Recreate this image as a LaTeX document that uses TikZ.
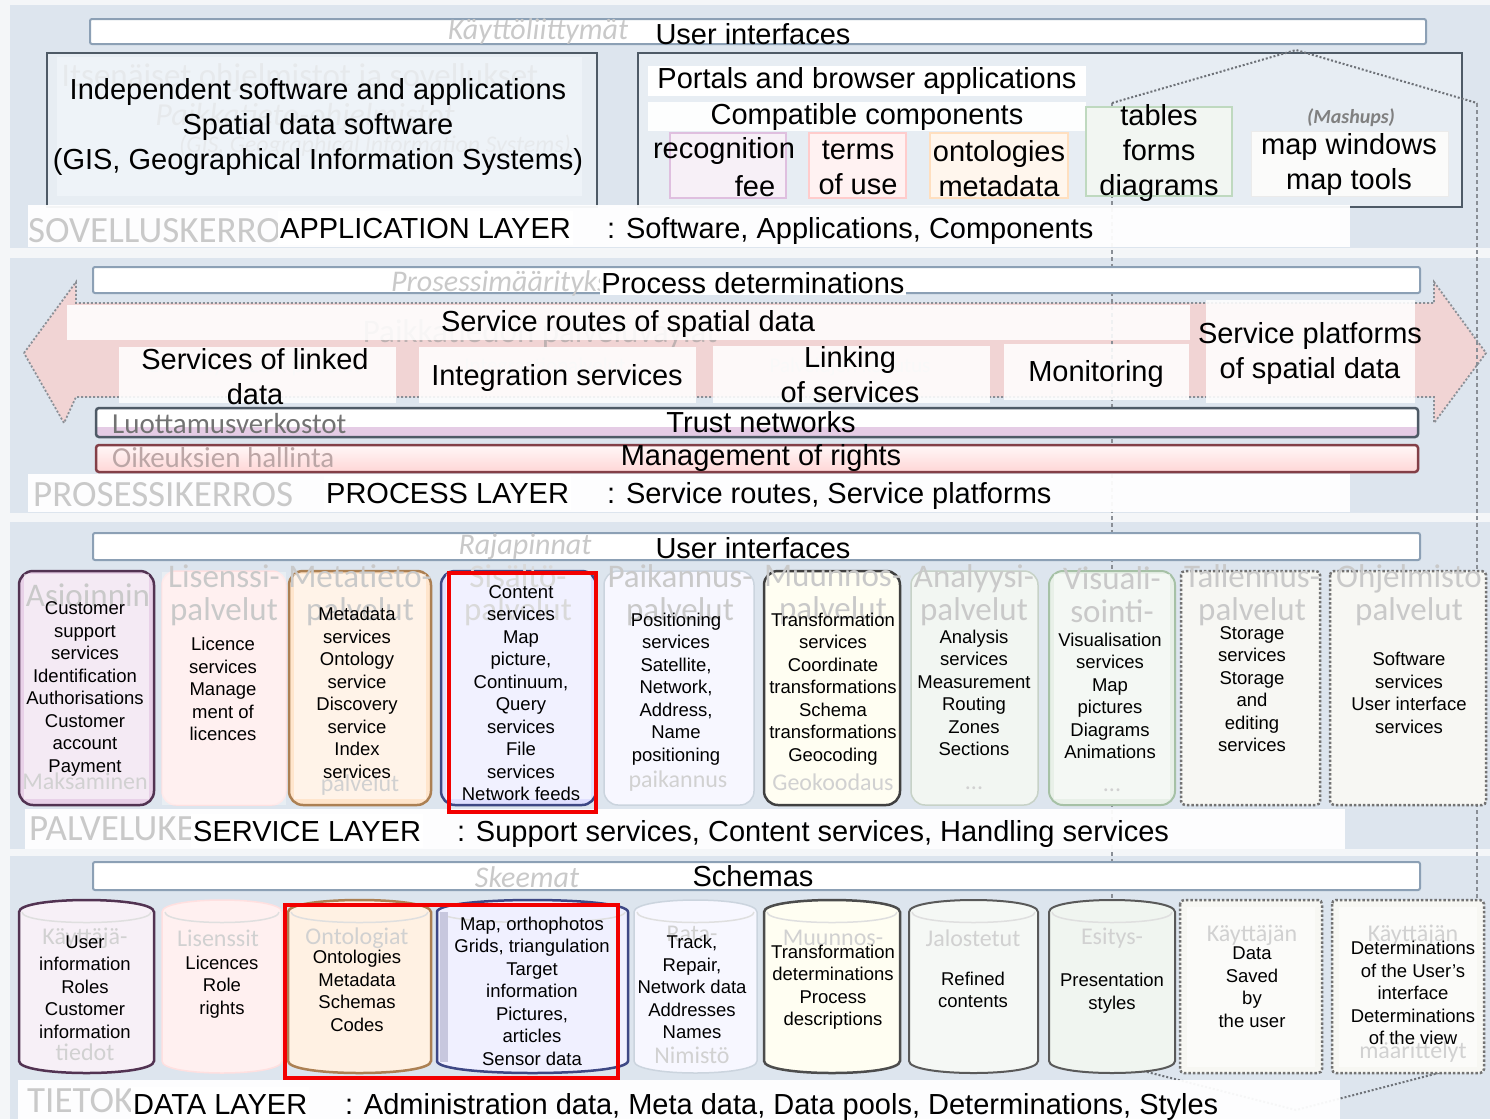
\documentclass[tikz,border=0pt]{standalone}
\usepackage{fontspec}
\setmainfont{Liberation Sans}
\newfontfamily\finfont{Carlito}
\definecolor{pagebg}{HTML}{F4F6F8}
\definecolor{panelc}{HTML}{DDE5EE}
\definecolor{innerc}{HTML}{F2F6FA}
\definecolor{barc}{HTML}{8CA0B5}
\definecolor{darkc}{HTML}{4E5A66}
\definecolor{fincol}{HTML}{C9C9C9}
\definecolor{arrowc}{HTML}{F1D4D4}
\definecolor{dotc}{HTML}{8A8F96}
\definecolor{redc}{HTML}{F20000}
\tikzset{
  big/.style={font=\fontsize{29}{35}\selectfont, inner sep=0pt, align=center},
  med/.style={font=\fontsize{18.5}{22.5}\selectfont, inner sep=0pt, align=center},
  fin/.style={font=\finfont\fontsize{33}{33}\selectfont, text=fincol, inner sep=0pt, align=center},
  finit/.style={font=\finfont\itshape\fontsize{30}{32}\selectfont, text=fincol, inner sep=0pt},
  finsm/.style={font=\finfont\fontsize{24}{28}\selectfont, text=fincol!85!white, inner sep=0pt, align=center},
  finlay/.style={font=\finfont\fontsize{37}{40}\selectfont, text=fincol, inner sep=0pt, anchor=base west},
  barbox/.style={draw=barc, line width=2pt, fill=white, rounded corners=2pt},
  labelbox/.style={fill=white, fill opacity=0.94},
  whitebox/.style={fill=white, fill opacity=0.88},
  redbox/.style={draw=redc, line width=4pt},
  vdash/.style={draw=dotc, line width=1.3pt, dash pattern=on 4pt off 3pt},
  roof/.style={draw=dotc!80!black, line width=2pt, dash pattern=on 2pt off 2pt},
  colbox/.style={rounded corners=14pt},
  colinner/.style={fill=white, fill opacity=0.55},
  dotbox/.style={rounded corners=4pt, draw=black!55, line width=2.5pt, dash pattern=on 2.5pt off 2pt},
  layername/.style={big, fill=white, inner xsep=2pt, inner ysep=7pt, anchor=base west}
}
\newcommand\cylpath[5]{%
  \path[#5] ({#1},{#3+12}) .. controls ({#1},{#3-4}) and ({#2},{#3-4}) .. ({#2},{#3+12})
     -- ({#2},{#4-12}) .. controls ({#2},{#4+4}) and ({#1},{#4+4}) .. ({#1},{#4-12}) -- cycle;
  \draw[white!75!gray, line width=1.5pt] ({#1+3},{#3+12}) .. controls ({#1+3},{#3+26}) and ({#2-3},{#3+26}) .. ({#2-3},{#3+12});
}
\newcommand\colinner[2]{\fill[colinner] ({#1+5},574) rectangle ({#2-5},799);}
\begin{document}
\begin{tikzpicture}[x=1pt,y=-1pt]
\useasboundingbox (0,0) rectangle (1490,1119);
\fill[pagebg] (0,0) rectangle (1490,1119);
% ---------- panels
\fill[panelc] (10,5) rectangle (1490,248);
\fill[panelc] (10,258) rectangle (1490,513);
\fill[panelc] (10,522) rectangle (1490,849);
\fill[panelc] (10,856) rectangle (1490,1119);

% ---------- application layer big boxes
\draw[draw=darkc, line width=2pt, fill=panelc!70!white] (47,53) rectangle (597,207);
\draw[draw=darkc, line width=2pt, fill=panelc!70!white] (638,53) rectangle (1462,207);
% faded Finnish in the left box (under its whitish inner box)
\node[fin, font=\finfont\fontsize{33}{36}\selectfont] (fitse) at (300,78) {Itsenäiset ohjelmistot ja sovellukset};
\node[finit, font=\finfont\itshape\fontsize{32}{34}\selectfont] (fpaik) at (305,117) {Paikkatieto-ohjelmistot};
\node[finit, font=\finfont\itshape\fontsize{24}{26}\selectfont] (fgis) at (375,146) {(GIS, Geographical Information Systems)};
\fill[innerc, fill opacity=0.72] (57,57) rectangle (582,196);

% ---------- process arrow
\path[fill=arrowc, draw=dotc, line width=1.8pt, dash pattern=on 2pt off 2pt]
  (24,353) -- (76,282) -- (76,303) -- (1434,303) -- (1434,282) -- (1486,353)
  -- (1434,423) -- (1434,397) -- (76,397) -- (64,423) -- cycle;

% ---------- dashed house
\draw[vdash] (1112,103) -- (1112,1063);
\draw[vdash] (1477,103) -- (1477,1063);
\draw[roof] (1112,103) -- (1296,50) -- (1477,103);
\draw[roof] (1112,1063) -- (1296,1110) -- (1477,1063);

% ---------- bars
\draw[barbox] (90,19) rectangle (1426,44);
\draw[barbox] (93,267) rectangle (1420,293);
\draw[barbox] (93,533) rectangle (1420,560);
\draw[barbox] (93,862) rectangle (1420,890);
\fill[white] (96,408) rectangle (1418,437);
\fill[violet!20!white] (97,427) rectangle (1417,436);
\draw[line width=2.5pt, draw=darkc, rounded corners=3pt] (96,408) rectangle (1418,437);
\draw[line width=2.5pt, draw=red!30!darkc, rounded corners=3pt, top color=red!3!white, bottom color=red!16!white] (96,445) rectangle (1418,472);

% ---------- application layer small boxes
\fill[white] (648,66) rectangle (1086,96);
\fill[white, fill opacity=0.95] (648,102) rectangle (1086,131);
\draw[draw=violet!25!white, line width=1.5pt, fill=violet!6!white] (670,133) rectangle (786,198);
\draw[draw=red!20!white, line width=1.5pt, fill=red!5!white] (809,133) rectangle (906,198);
\draw[draw=orange!25!white, line width=1.5pt, fill=orange!7!white] (930,133) rectangle (1068,198);
\draw[draw=green!40!black!25!white, line width=1.5pt, fill=green!30!black!5!white] (1086,107) rectangle (1232,196);
\draw[draw=black!8, line width=1pt, fill=yellow!20!black!2!white] (1251,131) rectangle (1448,196);

% ---------- process Finnish texts (under the white boxes)
\node[fin, text=red!15!black!30] (fpv) at (540,334) {Paikkatiedon palveluväylät};
\node[finsm, font=\finfont\fontsize{21}{24}\selectfont] (flink) at (255,367) {Linkitetyn datan palvelut};
\node[finsm, font=\finfont\fontsize{21}{24}\selectfont] (fintg) at (545,367) {Integraatiopalvelut};
\node[finsm, font=\finfont\fontsize{21}{24}\selectfont] (fket) at (850,367) {Palvelujen ketjutus};
\node[finsm, font=\finfont\fontsize{21}{24}\selectfont] (fmon) at (1096,367) {Monitorointi};
\node[fin, font=\finfont\fontsize{32}{34}\selectfont] (falu) at (1310,338) {Palvelualustat};

% ---------- process white boxes
\fill[whitebox] (67,305) rectangle (1190,340);
\fill[whitebox] (119,347) rectangle (396,403);
\fill[whitebox] (419,347) rectangle (696,403);
\fill[whitebox] (713,346) rectangle (990,403);
\fill[whitebox] (1004,344) rectangle (1189,400);
\fill[whitebox] (1206,300) rectangle (1415,403);

% ---------- layer label boxes
\fill[labelbox] (28,205) rectangle (1350,247);
\fill[labelbox] (28,474) rectangle (1350,512);
\fill[labelbox] (25,809) rectangle (1345,849);
\fill[labelbox] (18,1080) rectangle (1340,1119);

% ---------- service columns
\draw[colbox, fill=violet!18!white, draw=black!60!violet!60!gray, line width=2.5pt] (19,571) rectangle (154,805);
\colinner{19}{154}
\draw[colbox, fill=red!9!white, draw=red!12!white, line width=1.5pt] (162,571) rectangle (286,805);
\fill[white, fill opacity=0.35] (162,572) rectangle (286,805);
\draw[colbox, fill=orange!20!white, draw=brown!70!gray, line width=2.5pt] (289,571) rectangle (431,805);
\colinner{289}{431}
\draw[colbox, fill=blue!12!white, draw=darkc!80!blue, line width=2.5pt] (441,571) rectangle (596,805);
\colinner{441}{596}
\draw[colbox, fill=blue!3!white, draw=barc!45!white, line width=1.5pt] (604,571) rectangle (754,805);
\draw[colbox, fill=yellow!5!white, draw=black!75, line width=2.5pt] (764,571) rectangle (900,805);
\draw[colbox, fill=green!30!black!5!white, draw=green!20!black!22!white, line width=1.5pt] (911,571) rectangle (1038,805);
\draw[colbox, fill=green!35!black!9!white, draw=green!30!black!35!white, line width=2pt] (1049,571) rectangle (1175,805);
\colinner{1049}{1175}
\draw[dotbox, fill=yellow!30!black!5!white] (1181,571) rectangle (1320,805);
\draw[dotbox, fill=yellow!30!black!5!white] (1330,571) rectangle (1486,805);

% ---------- data cylinders
\cylpath{19}{154}{900}{1073}{fill=violet!6!white, draw=black!60!violet!60!gray, line width=2.5pt}
\cylpath{162}{282}{900}{1073}{fill=red!6!white, draw=red!12!white, line width=1.5pt}
\cylpath{288}{431}{900}{1073}{fill=orange!11!white, draw=brown!70!gray, line width=2.5pt}
\cylpath{437}{628}{900}{1073}{fill=blue!6!white, draw=darkc!80!blue, line width=2.5pt}
\fill[blue!25!gray!35!white] (440,912) rectangle (448,1062);
\cylpath{634}{757}{900}{1073}{fill=blue!3!white, draw=barc!45!white, line width=1.5pt}
\cylpath{764}{900}{900}{1073}{fill=yellow!5!white, draw=black!70, line width=2.5pt}
\cylpath{909}{1038}{900}{1073}{fill=green!30!black!4!white, draw=black!65, line width=2pt}
\cylpath{1049}{1175}{900}{1073}{fill=green!35!black!6!white, draw=black!65, line width=2pt}
\draw[dotbox, fill=yellow!30!black!5!white] (1180,900) rectangle (1322,1073);
\draw[dotbox, fill=yellow!30!black!5!white] (1332,900) rectangle (1484,1073);
\fill[white, fill opacity=0.5] (1187,907) rectangle (1315,1067);
\fill[white, fill opacity=0.5] (1339,907) rectangle (1477,1067);

% ---------- faded Finnish texts
\node[finit] (fkl) at (538,32) {Käyttöliittymät};
\node[finit, font=\finfont\itshape\bfseries\fontsize{20}{24}\selectfont, text=black!50] (fmash) at (1351,118) {(Mashups)};
\node[finlay] (fsov) at (28,242) {SOVELLUSKERROS};
\node[finit] (fpros) at (512,283) {Prosessimääritykset};
\node[fin, font=\finfont\fontsize{29}{32}\selectfont, text=black!55, anchor=west] (fluot) at (112,424) {Luottamusverkostot};
\node[fin, font=\finfont\fontsize{29}{32}\selectfont, text=red!25!black!35, anchor=west] (foik) at (112,458) {Oikeuksien hallinta};
\node[finlay] (fprk) at (33,506) {PROSESSIKERROS};
\node[finit] (fraj) at (525,547) {Rajapinnat};
\node[finlay] (fpalk) at (29,840) {PALVELUKERROS};
\node[finit] (fske) at (527,877) {Skeemat};
\node[finlay] (ftiet) at (27,1112) {TIETOKERROS};
% service column headers
\node[fin] (fh1) at (88,595) {Asioinnin};
\node[fin] (fh2) at (224,595) {Lisenssi-\\palvelut};
\node[fin] (fh3) at (360,595) {Metatieto-\\palvelut};
\node[fin, text=fincol!70!white] (fh4) at (518,595) {Sisältö-\\palvelut};
\node[fin] (fh5) at (680,595) {Paikannus-\\palvelut};
\node[fin] (fh6) at (833,595) {Muunnos-\\palvelut};
\node[fin] (fh7) at (974,595) {Analyysi-\\palvelut};
\node[fin] (fh8) at (1112,595) {Visuali-\\sointi-};
\node[fin] (fh9) at (1252,595) {Tallennus-\\palvelut};
\node[fin] (fh10) at (1409,595) {Ohjelmisto\\palvelut};
\node[finsm] (fb1) at (85,781) {Maksaminen};
\node[finsm] (fb3) at (360,785) {palvelut};
\node[finsm] (fb5) at (678,781) {paikannus};
\node[finsm] (fb6) at (833,782) {Geokoodaus};
\node[finsm] (fb7) at (974,788) {...};
\node[finsm] (fb8) at (1112,790) {...};
% data column headers
\node[finsm] (fd1) at (85,938) {Käyttäjä-};
\node[finsm] (fd2) at (218,938) {Lisenssit};
\node[finsm] (fd3) at (357,938) {Ontologiat};
\node[finsm] (fd5) at (692,934) {Rata-};
\node[finsm] (fd6) at (833,938) {Muunnos-};
\node[finsm] (fd7) at (973,938) {Jalostetut};
\node[finsm] (fd8) at (1112,938) {Esitys-};
\node[finsm] (fd9) at (1252,935) {Käyttäjän};
\node[finsm] (fd10) at (1413,935) {Käyttäjän};
\node[finsm] (fe1) at (85,1052) {tiedot};
\node[finsm] (fe5) at (692,1055) {Nimistö};
\node[finsm] (fe10) at (1413,1052) {määrittelyt};

% ---------- application layer texts
\node[big] (ui1) at (753,34) {User interfaces};
\node[big] (indep) at (318,127) {Independent software and applications\\Spatial data software\\(GIS, Geographical Information Systems)};
\node[big] (portals) at (867,81) {Portals and browser applications};
\node[big] (compat) at (867,117) {Compatible components};
\node[big] (recog) at (724,151) {recognition};
\node[big] (fee) at (755,186) {fee};
\node[big] (terms) at (858,168) {terms\\of use};
\node[big] (onto) at (999,169) {ontologies\\metadata};
\node[big] (tables) at (1159,153) {tables\\forms\\diagrams};
\node[big] (mapw) at (1349,164) {map windows\\map tools};
\node[layername] (applayer) at (278,238) {APPLICATION LAYER};
\node[big, anchor=base west] (appdesc) at (607,238) {: Software, Applications, Components};

% ---------- process layer texts
\node[big, fill=white, inner sep=1pt] (procdet) at (753,283) {Process determinations};
\node[big] (routes) at (628,324) {Service routes of spatial data};
\node[big] (linked) at (255,377) {Services of linked\\data};
\node[big] (integ) at (557,378) {Integration services};
\node[big] (linking) at (850,375) {Linking\\of services};
\node[big] (monit) at (1096,374) {Monitoring};
\node[big] (platf) at (1310,353) {Service platforms\\of spatial data};
\node[big] (trust) at (761,422) {Trust networks};
\node[big] (rights) at (761,458) {Management of rights};
\node[layername] (proclayer) at (324,503) {PROCESS LAYER};
\node[big, anchor=base west] (procdesc) at (607,503) {: Service routes, Service platforms};

% ---------- service layer texts
\node[big] (ui2) at (753,548) {User interfaces};
\node[med] (s1) at (85,689) {Customer\\support\\services\\Identification\\Authorisations\\Customer\\account\\Payment};
\node[med] (s2) at (223,689) {Licence\\services\\Manage\\ment of\\licences};
\node[med] (s3) at (357,693) {Metadata\\services\\Ontology\\service\\Discovery\\service\\Index\\services};
\node[med] (s4) at (521,693) {Content\\services\\Map\\picture,\\Continuum,\\Query\\services\\File\\services\\Network feeds};
\node[med] (s5) at (676,689) {Positioning\\services\\Satellite,\\Network,\\Address,\\Name\\positioning};
\node[med] (s6) at (833,689) {Transformation\\services\\Coordinate\\transformations\\Schema\\transformations\\Geocoding};
\node[med] (s7) at (974,693) {Analysis\\services\\Measurement\\Routing\\Zones\\Sections};
\node[med] (s8) at (1110,696) {Visualisation\\services\\Map\\pictures\\Diagrams\\Animations};
\node[med] (s9) at (1252,689) {Storage\\services\\Storage\\and\\editing\\services};
\node[med] (s10) at (1409,693) {Software\\services\\User interface\\services};
\node[layername] (servlayer) at (191,841) {SERVICE LAYER};
\node[big, anchor=base west] (servdesc) at (457,841) {: Support services, Content services, Handling services};

% ---------- data layer texts
\node[big] (schemas) at (753,876) {Schemas};
\node[med] (d1) at (85,987) {User\\information\\Roles\\Customer\\information};
\node[med] (d2) at (222,987) {Licences\\Role\\rights};
\node[med] (d3) at (357,991) {Ontologies\\Metadata\\Schemas\\Codes};
\node[med] (d4) at (532,991) {Map, orthophotos\\Grids, triangulation\\Target\\information\\Pictures,\\articles\\Sensor data};
\node[med] (d5) at (692,987) {Track,\\Repair,\\Network data\\Addresses\\Names};
\node[med] (d6) at (833,987) {Transformation\\determinations\\Process\\descriptions};
\node[med] (d7) at (973,990) {Refined\\contents};
\node[med] (d8) at (1112,993) {Presentation\\styles};
\node[med] (d9) at (1252,987) {Data\\Saved\\by\\the user};
\node[med] (d10) at (1413,993) {Determinations\\of the User’s\\interface\\Determinations\\of the view};
\node[layername] (datalayer) at (131,1114) {DATA LAYER};
\node[big, anchor=base west] (datadesc) at (345,1114) {: Administration data, Meta data, Data pools, Determinations, Styles};

% ---------- red highlight boxes
\draw[redbox] (449,573) rectangle (596,812);
\draw[redbox] (285,905) rectangle (618,1078);
\end{tikzpicture}
\end{document}
